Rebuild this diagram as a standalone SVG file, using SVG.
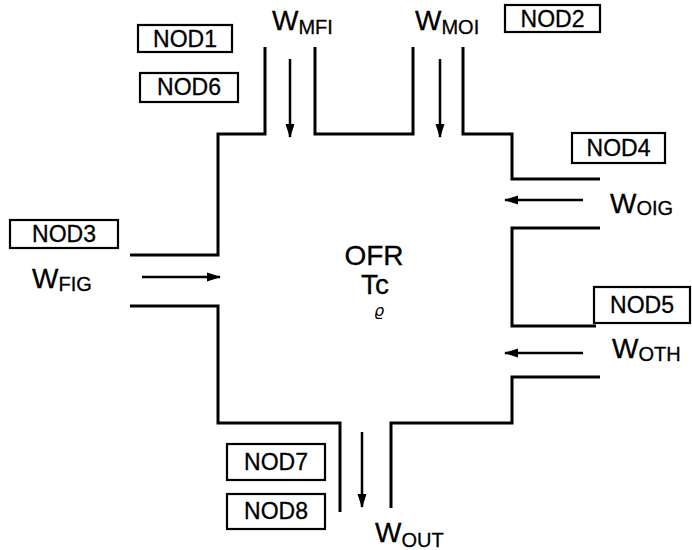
<svg xmlns="http://www.w3.org/2000/svg" width="692" height="550" viewBox="0 0 692 550">
<defs>
<marker id="ah" markerWidth="14" markerHeight="10" refX="13" refY="5" orient="auto" markerUnits="userSpaceOnUse">
<path d="M0,0.5 L14,5 L0,9.5 Z" fill="#000"/>
</marker>
<style>
.wall{fill:none;stroke:#000;stroke-width:3;stroke-linejoin:miter}
.flow{fill:none;stroke:#000;stroke-width:2.5;marker-end:url(#ah)}
.box{fill:#fff;stroke:#000;stroke-width:2.2}
.nt{font-family:"Liberation Sans",Arial,sans-serif;font-size:23px;text-anchor:middle;fill:#000;stroke:#000;stroke-width:0.3}
.w{font-family:"Liberation Sans",Arial,sans-serif;font-size:28px;fill:#000;stroke:#000;stroke-width:0.3}
.sub{font-size:20px}
.c{font-family:"Liberation Sans",Arial,sans-serif;font-size:28px;text-anchor:middle;fill:#000;stroke:#000;stroke-width:0.3}
</style>
</defs>
<rect width="692" height="550" fill="#fff"/>
<g id="walls">
<path class="wall" d="M265,47 V134 H218 V255 H130"/>
<path class="wall" d="M315,47 V134 H413 V47"/>
<path class="wall" d="M463,47 V134 H512 V179 H600"/>
<path class="wall" d="M600,228 H512 V326 H596"/>
<path class="wall" d="M600,377 H512 V423 H391 V508"/>
<path class="wall" d="M130,306 H218 V423 H340 V512"/>
</g>
<g id="connectors">
<line class="flow" x1="290" y1="59" x2="290" y2="137"/>
<line class="flow" x1="440" y1="59" x2="440" y2="137"/>
<line class="flow" x1="583" y1="200" x2="505" y2="200"/>
<line class="flow" x1="583" y1="353" x2="505" y2="353"/>
<line class="flow" x1="142" y1="277" x2="220" y2="277"/>
<line class="flow" x1="362" y1="432" x2="362" y2="507"/>
</g>
<g id="OFR">
<text class="c" x="374" y="265">OFR</text>
<text class="c" x="375" y="294" font-size="29">Tc</text>
<text x="379" y="316" font-family="DejaVu Sans,sans-serif" font-style="italic" font-size="16" text-anchor="middle">ϱ</text>
</g>
<g id="NOD1"><rect class="box" x="138" y="25" width="94" height="27"/><text class="nt" x="185" y="47">NOD1</text></g>
<g id="NOD6"><rect class="box" x="140" y="73" width="98" height="29"/><text class="nt" x="189" y="95">NOD6</text></g>
<g id="NOD2"><rect class="box" x="505" y="5" width="95" height="27"/><text class="nt" x="552.5" y="27">NOD2</text></g>
<g id="NOD4"><rect class="box" x="572" y="133" width="93" height="30"/><text class="nt" x="618.5" y="156">NOD4</text></g>
<g id="NOD3"><rect class="box" x="10" y="220" width="108" height="28"/><text class="nt" x="64" y="242">NOD3</text></g>
<g id="NOD5"><rect class="box" x="594" y="287" width="96" height="36"/><text class="nt" x="642" y="313">NOD5</text></g>
<g id="NOD7"><rect class="box" x="227" y="444" width="98" height="36"/><text class="nt" x="276" y="470">NOD7</text></g>
<g id="NOD8"><rect class="box" x="227" y="494" width="98" height="35"/><text class="nt" x="276" y="519">NOD8</text></g>
<g id="labels">
<text class="w" x="272" y="30">W<tspan class="sub" dy="4">MFI</tspan></text>
<text class="w" x="415" y="30">W<tspan class="sub" dy="4">MOI</tspan></text>
<text class="w" x="610" y="213">W<tspan class="sub" dy="2">OIG</tspan></text>
<text class="w" x="32" y="288">W<tspan class="sub" dy="3">FIG</tspan></text>
<text class="w" x="612" y="358">W<tspan class="sub" dy="3">OTH</tspan></text>
<text class="w" x="375" y="542">W<tspan class="sub" dy="5">OUT</tspan></text>
</g>
</svg>
